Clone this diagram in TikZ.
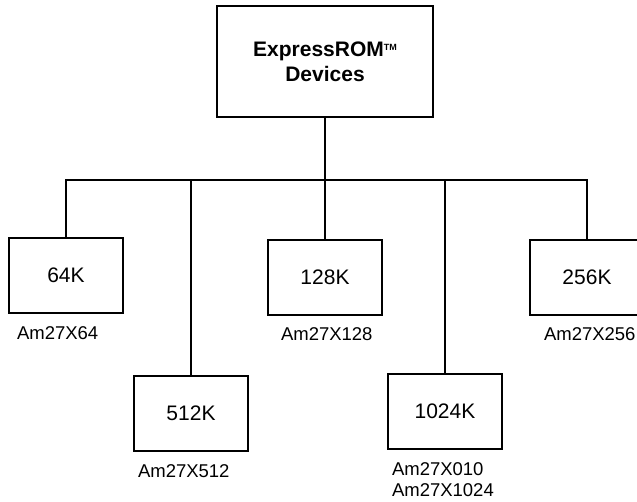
\documentclass[tikz,border=0pt]{standalone}
\usepackage{fontspec}
\setmainfont{Liberation Sans}
\usetikzlibrary{positioning}

\tikzset{
    rootbox/.style={draw, line width=2.4pt, minimum width=216pt, minimum height=111pt, inner sep=0pt, align=center, font=\fontsize{21}{25}\selectfont\bfseries},
    sizebox/.style={draw, line width=2.4pt, minimum width=114pt, minimum height=75pt, inner sep=0pt, font=\fontsize{21}{25}\selectfont},
    partlabel/.style={inner sep=0pt, align=left, font=\fontsize{18.5}{21}\selectfont},
    link/.style={line width=1.8pt}
}

\begin{document}
\begin{tikzpicture}[x=1pt, y=-1pt]
    \useasboundingbox (0,0) rectangle (637,501);
    % Root
    \node [rootbox] (root) at (325, 61.5) {ExpressROM\raisebox{6pt}{\fontsize{9}{9}\selectfont TM}\\Devices};
    \coordinate (bus) at (0, 180);
    % Sizes
    \node [sizebox] (k64) at (66, 275.5) {64K};
    \node [sizebox] (k128) at (325, 277.5) {128K};
    \node [sizebox] (k256) at (587, 277.5) {256K};
    \node [sizebox] (k512) at (191, 413.5) {512K};
    \node [sizebox] (k1024) at (445, 411.5) {1024K};
    % Part numbers
    \node [partlabel, below right=12pt and 9pt of k64.south west] (p64) {Am27X64};
    \node [partlabel, below right=11pt and 14pt of k128.south west] (p128) {Am27X128};
    \node [partlabel, below right=11pt and 15pt of k256.south west] (p256) {Am27X256};
    \node [partlabel, below right=12pt and 5pt of k512.south west] (p512) {Am27X512};
    \node [partlabel, below right=12pt and 5pt of k1024.south west] (p1024) {Am27X010\\Am27X1024};
    % Tree
    \draw [link] (root.south) -- (root.south |- bus);
    \draw [link] (k64.north) -- (k64.north |- bus) -- (k256.north |- bus) -- (k256.north);
    \draw [link] (k512.north) -- (k512.north |- bus);
    \draw [link] (k128.north) -- (k128.north |- bus);
    \draw [link] (k1024.north) -- (k1024.north |- bus);
\end{tikzpicture}
\end{document}
